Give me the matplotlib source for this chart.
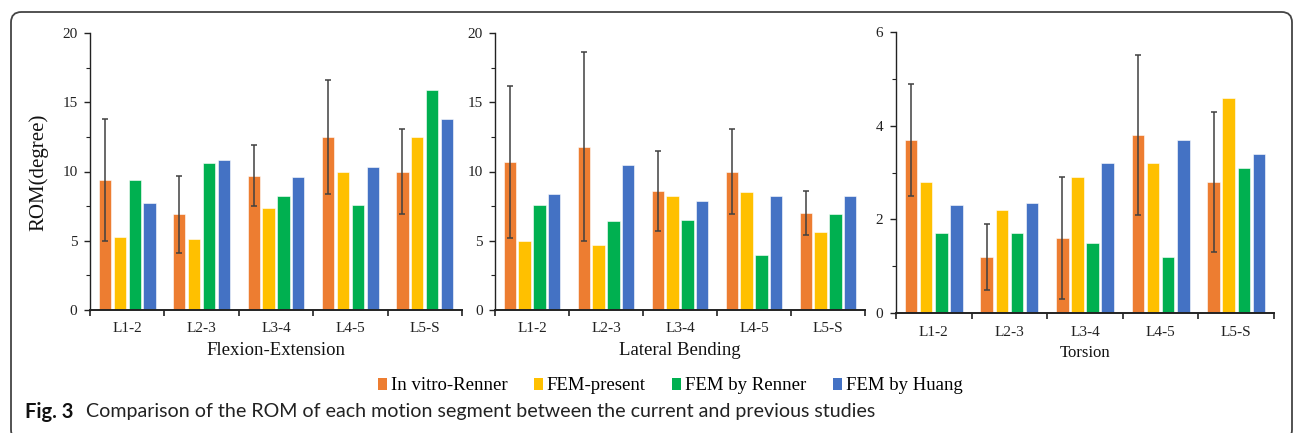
import numpy as np
import matplotlib
matplotlib.use("Agg")
import matplotlib.pyplot as plt
from matplotlib.patches import FancyBboxPatch, Patch
from matplotlib.ticker import MultipleLocator

# ── DATA ──────────────────────────────────────────────────
SEGMENTS = ["L1-2", "L2-3", "L3-4", "L4-5", "L5-S"]
SERIES = ["In vitro-Renner", "FEM-present", "FEM by Renner", "FEM by Huang"]
COLORS = ["#ED7D31", "#FFC000", "#00B050", "#4472C4"]

# flexion-extension (degree)
fe_invitro = [9.4, 6.9, 9.7, 12.5, 10.0]
fe_invitro_sd = [4.4, 2.8, 2.2, 4.1, 3.1]
fe_present = [5.3, 5.1, 7.4, 10.0, 12.5]
fe_renner = [9.4, 10.6, 8.2, 7.6, 15.9]
fe_huang = [7.7, 10.8, 9.6, 10.3, 13.8]

# lateral bending (degree)
lb_invitro = [10.7, 11.8, 8.6, 10.0, 7.0]
lb_invitro_sd = [5.5, 6.8, 2.9, 3.1, 1.6]
lb_present = [5.0, 4.7, 8.2, 8.5, 5.6]
lb_renner = [7.6, 6.4, 6.5, 4.0, 6.9]
lb_huang = [8.4, 10.5, 7.9, 8.2, 8.2]

# torsion (degree)
tr_invitro = [3.7, 1.2, 1.6, 3.8, 2.8]
tr_invitro_sd = [1.2, 0.7, 1.3, 1.7, 1.5]
tr_present = [2.8, 2.2, 2.9, 3.2, 4.6]
tr_renner = [1.7, 1.7, 1.5, 1.2, 3.1]
tr_huang = [2.3, 2.35, 3.2, 3.7, 3.4]

PANELS = [
    ("Flexion-Extension", [fe_invitro, fe_present, fe_renner, fe_huang], fe_invitro_sd, 20, 5, 2.5, 13.5),
    ("Lateral Bending", [lb_invitro, lb_present, lb_renner, lb_huang], lb_invitro_sd, 20, 5, 2.5, 13.5),
    ("Torsion", [tr_invitro, tr_present, tr_renner, tr_huang], tr_invitro_sd, 6, 2, 1, 12),
]

# axes boxes in pixels: left, top, right, bottom
BOXES = [(90, 33, 462, 310), (495, 33, 865, 310), (896, 32, 1274, 313)]

W, H = 1295, 433
SERIF = "Liberation Serif"

fig = plt.figure(figsize=(W / 100, H / 100), dpi=100)

x = np.arange(len(SEGMENTS))
slot = 0.2
bar_w = 0.165

for (name, series, sd, ymax, major, minor, xl_size), (l, t, r, b) in zip(PANELS, BOXES):
    ax = fig.add_axes([l / W, 1 - b / H, (r - l) / W, (b - t) / H])
    for i, (vals, col) in enumerate(zip(series, COLORS)):
        pos = x + (i - 1.5) * slot
        ax.bar(pos, vals, width=bar_w, color=col, edgecolor="white", linewidth=0.4, zorder=2)
        if i == 0:
            ax.errorbar(pos, vals, yerr=sd, fmt="none", ecolor="#404040",
                        elinewidth=1.1, capsize=2.2, capthick=1.1, zorder=3)

    ax.set_xlim(-0.5, len(SEGMENTS) - 0.5)
    ax.set_ylim(0, ymax)
    for s in ["top", "right"]:
        ax.spines[s].set_visible(False)
    ax.spines["left"].set_linewidth(1.0)
    ax.spines["bottom"].set_linewidth(1.4)
    ax.spines["left"].set_color("#222222")
    ax.spines["bottom"].set_color("#222222")

    # boundary ticks on x, labels sit between them
    ax.set_xticks(np.arange(-0.5, len(SEGMENTS)), labels=[])
    ax.set_xticks(x, labels=SEGMENTS, minor=True)
    ax.tick_params(axis="x", which="major", direction="out", length=4, width=1.2, color="#222222")
    ax.tick_params(axis="x", which="minor", length=0, pad=9)

    ax.yaxis.set_major_locator(MultipleLocator(major))
    ax.yaxis.set_minor_locator(MultipleLocator(minor))
    ax.tick_params(axis="y", which="major", length=4, width=1.0, pad=5, color="#222222")
    ax.tick_params(axis="y", which="minor", length=3, width=0.8, color="#222222")
    for lab in ax.get_xticklabels(minor=True) + ax.get_yticklabels():
        lab.set_fontfamily(SERIF)
        lab.set_fontsize(11)
        lab.set_color("#222222")

    ax.set_xlabel(name, fontfamily=SERIF, fontsize=xl_size, color="#111111", labelpad=5)

fig.text(39 / W, 1 - 172 / H, "ROM(degree)", rotation=90, ha="center", va="center",
         fontfamily=SERIF, fontsize=15, color="#111111")

handles = [Patch(facecolor=c, edgecolor="none") for c in COLORS]
fig.legend(handles, SERIES, loc="center", bbox_to_anchor=(670 / W, 1 - 386 / H), ncol=4,
           frameon=False, prop={"family": SERIF, "size": 13.5},
           handlelength=0.5, handleheight=0.6, handletextpad=0.2, columnspacing=1.4)

# caption
fig.text(25 / W, 1 - 412 / H, "Fig. 3", fontfamily="Lato", fontweight="bold",
         fontsize=14.5, va="center", ha="left", color="#111111")
fig.text(86 / W, 1 - 412 / H,
         "Comparison of the ROM of each motion segment between the current and previous studies",
         fontfamily="Lato", fontsize=14.1, va="center", ha="left", color="#222222")

# rounded frame round the whole figure, open at the bottom
frame = FancyBboxPatch((11 / W, 1 - 440 / H), 1281 / W, (440 - 12) / H,
                       boxstyle="round,pad=0,rounding_size=0.008",
                       transform=fig.transFigure, facecolor="none",
                       edgecolor="#444444", linewidth=1.3, mutation_aspect=W / H)
fig.patches.append(frame)

fig.savefig("out.png", dpi=100)
